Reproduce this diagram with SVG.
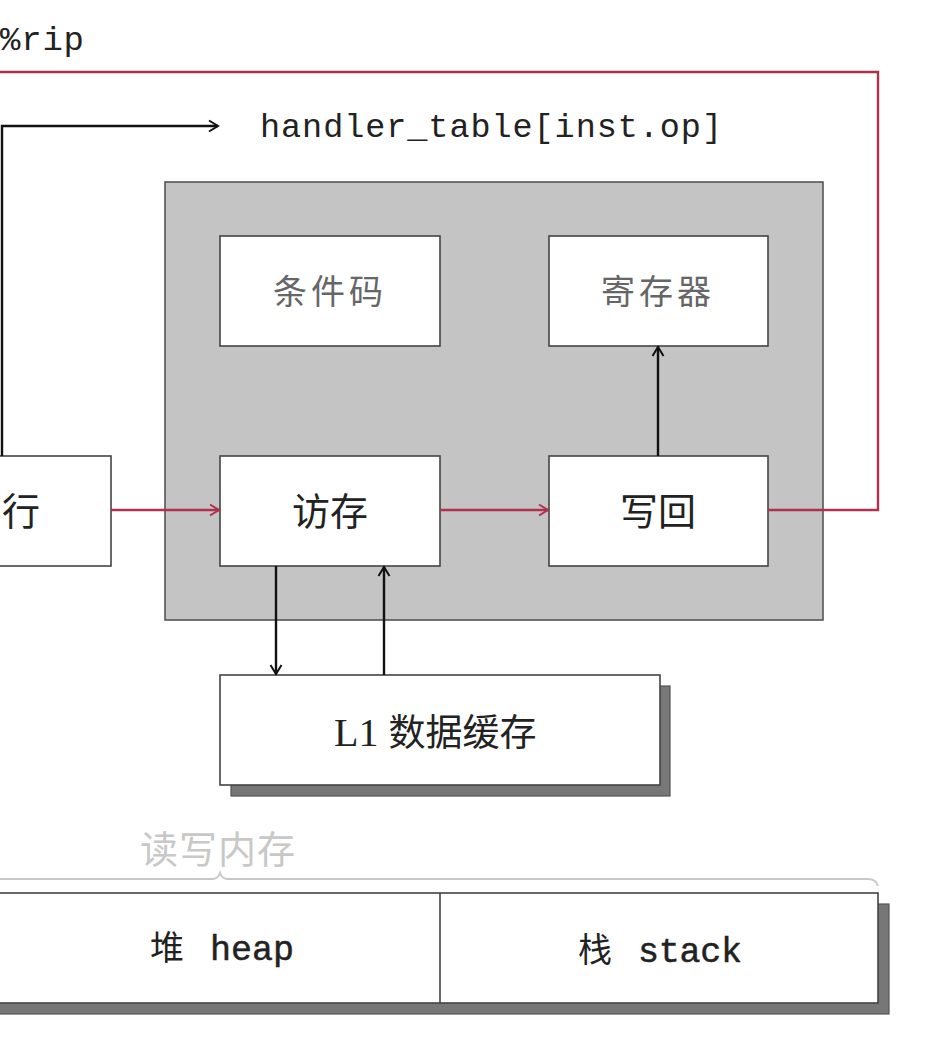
<svg xmlns="http://www.w3.org/2000/svg" width="940" height="1042" viewBox="0 0 940 1042">
<defs>
<style>
.box{fill:#fff;stroke:#444;stroke-width:1.6}
.shadow{fill:#777;stroke:#555;stroke-width:1.2}
.mono{font-family:"Liberation Mono","DejaVu Sans Mono",monospace;fill:#222}
.cjk{font-family:"Noto Sans CJK SC",sans-serif;fill:#222}
.lite{fill:#666}
.blk{stroke:#111;stroke-width:2.4;fill:none}
.red{stroke:#b0304f;stroke-width:2.4;fill:none}
</style>
<marker id="ab" markerUnits="userSpaceOnUse" markerWidth="16" markerHeight="16" viewBox="0 0 16 16" refX="14" refY="8" orient="auto">
<path d="M5,2.5 L14,8 L5,13.5" fill="none" stroke="#111" stroke-width="2"/>
</marker>
<marker id="ar" markerUnits="userSpaceOnUse" markerWidth="16" markerHeight="16" viewBox="0 0 16 16" refX="14" refY="8" orient="auto">
<path d="M5,2.5 L14,8 L5,13.5" fill="none" stroke="#b0304f" stroke-width="2"/>
</marker>
</defs>
<rect width="940" height="1042" fill="#fff"/>

<text class="mono" x="0" y="50" font-size="34" textLength="84" lengthAdjust="spacing">%rip</text>
<text class="mono" x="260" y="137" font-size="33.5" textLength="462" lengthAdjust="spacing">handler_table[inst.op]</text>

<g id="panel"><rect x="165" y="182" width="658" height="438" fill="#c4c4c4" stroke="#555" stroke-width="1.6"/></g>

<g id="cc"><rect class="box" x="220" y="236" width="220" height="110"/><text class="cjk lite" x="330" y="304" font-size="34" text-anchor="middle" letter-spacing="4">条件码</text></g>
<g id="reg"><rect class="box" x="549" y="236" width="219" height="110"/><text class="cjk lite" x="658" y="304" font-size="34" text-anchor="middle" letter-spacing="4">寄存器</text></g>
<g id="mem"><rect class="box" x="220" y="456" width="220" height="110"/><text class="cjk" x="330" y="525" font-size="38" text-anchor="middle">访存</text></g>
<g id="wb"><rect class="box" x="549" y="456" width="219" height="110"/><text class="cjk" x="658" y="525" font-size="38" text-anchor="middle">写回</text></g>
<g id="exec"><rect class="box" x="-10" y="456" width="121" height="110"/><text class="cjk" x="2" y="525" font-size="38">行</text></g>

<g id="l1"><rect class="shadow" x="231" y="686" width="439" height="110"/><rect class="box" x="220" y="675" width="440" height="110"/>
<text x="334" y="746" font-size="40" fill="#222" font-family="Liberation Serif,Noto Sans CJK SC,serif">L1 <tspan font-family="Noto Sans CJK SC,sans-serif" font-size="37">数据缓存</tspan></text></g>

<g id="rwlabel"><text class="cjk" x="140" y="863" font-size="38" style="fill:#c8c8c8" letter-spacing="1">读写内存</text>
<path d="M0,879 H212 Q218,879 220,873 Q222,879 228,879 H868 Q876,879 878,886" fill="none" stroke="#c8c8c8" stroke-width="2"/></g>

<g id="memory"><rect class="shadow" x="-5" y="904" width="894" height="110"/><rect class="box" x="-5" y="893" width="883" height="110"/>
<line x1="440" y1="893" x2="440" y2="1003" stroke="#444" stroke-width="1.6"/>
<text x="150" y="960" font-size="34" fill="#222" font-family="Noto Sans CJK SC,sans-serif">堆<tspan font-family="Liberation Mono,monospace" font-size="35" x="210" stroke="#222" stroke-width="0.5" textLength="84" lengthAdjust="spacing">heap</tspan></text>
<text x="578" y="962" font-size="34" fill="#222" font-family="Noto Sans CJK SC,sans-serif">栈<tspan font-family="Liberation Mono,monospace" font-size="35" x="638" stroke="#222" stroke-width="0.5" textLength="104" lengthAdjust="spacing">stack</tspan></text></g>

<g id="connectors">
<path class="red" d="M0,72 H878 V510 H768"/>
<path class="blk" d="M2,456 V126 H218" marker-end="url(#ab)"/>
<path class="red" d="M111,510 H219" marker-end="url(#ar)"/>
<path class="red" d="M440,510 H548" marker-end="url(#ar)"/>
<path class="blk" d="M658,456 V347" marker-end="url(#ab)"/>
<path class="blk" d="M276,566 V674" marker-end="url(#ab)"/>
<path class="blk" d="M384,675 V567" marker-end="url(#ab)"/>
</g>
</svg>
